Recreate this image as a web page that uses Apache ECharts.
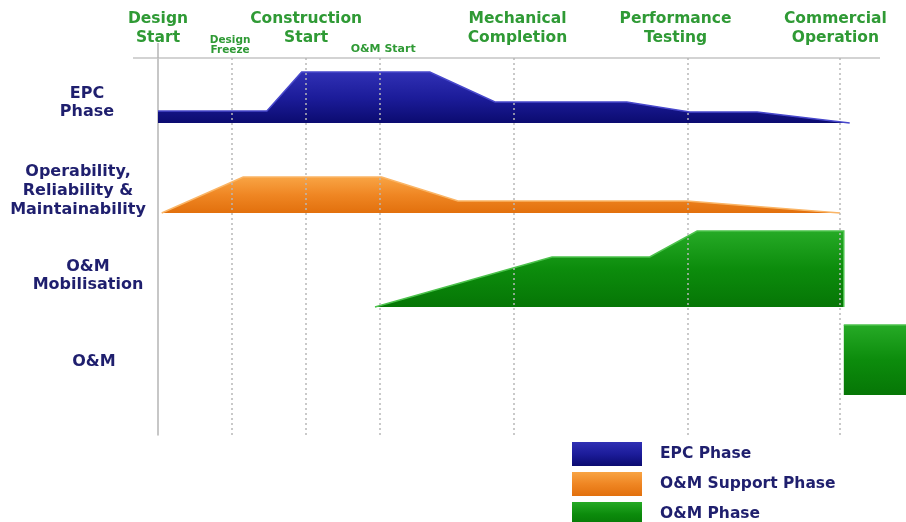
<!DOCTYPE html>
<html>
<head>
<meta charset="utf-8">
<script src="https://cdn.jsdelivr.net/npm/echarts@6/dist/echarts.min.js"></script>
<style>
  html, body { margin: 0; padding: 0; background: #ffffff; }
  #chart { width: 906px; height: 522px; }
</style>
</head>
<body>
<div id="chart"></div>
<script>
// Project timeline (weeks from design start)
const milestoneNames = ['Design\nStart', 'Design\nFreeze', 'Construction\nStart', 'O&M Start',
  'Mechanical\nCompletion', 'Performance\nTesting', 'Commercial\nOperation'];
const milestoneWeeks = [0, 10, 20, 30, 48, 71.5, 92];

// Swim lanes: label, baseline level and label level
const laneNames = ['EPC\nPhase', 'Operability,\nReliability &\nMaintainability', 'O&M\nMobilisation', 'O&M'];
const laneBase = [312, 222, 128, 40];
const laneLabelLevel = [332, 244, 159, 73];

// Effort profiles: breakpoints (weeks) and effort depth
const epcWeeks = [0, 14.7, 19.4, 36.7, 45.5, 63.3, 71.8, 80.9, 93.4];
const epcEffort = [12, 12, 51, 51, 21, 21, 11, 11, 0];
const ormWeeks = [0.5, 11.5, 30.2, 40.5, 71.4, 92.1];
const ormEffort = [0, 36, 36, 12, 12, 0];
const mobWeeks = [29.3, 53.2, 66.4, 72.8, 92.6, 92.6];
const mobEffort = [0, 50, 50, 76, 76, 0];
const omWeeks = [92.6, 101];
const omEffort = [70, 70];

const legendNames = ['EPC Phase', 'O&M Support Phase', 'O&M Phase'];

const FONT = 'DejaVu Sans';
const GREEN_TEXT = '#2f9a35';
const NAVY_TEXT = '#1f1f6e';

function vGrad(stops) {
  return new echarts.graphic.LinearGradient(0, 0, 0, 1,
    stops.map((c, i) => ({ offset: i / (stops.length - 1), color: c })));
}
const blueFill = vGrad(['#3030b4', '#1c1c9a', '#0b0b70']);
const orangeFill = vGrad(['#f8a444', '#ef8623', '#e2700d']);
const greenFill = vGrad(['#26aa26', '#0c8c0c', '#067606']);

// Polygon for one lane: effort profile on top of the lane baseline
function laneShape(api, weeks, effort, base, fill, edge) {
  const top = weeks.map((w, i) => api.coord([w, base + effort[i]]));
  const bottom = [api.coord([weeks[weeks.length - 1], base]), api.coord([weeks[0], base])];
  return {
    type: 'group',
    children: [
      { type: 'polygon', shape: { points: top.concat(bottom) }, style: { fill: fill } },
      { type: 'polyline', shape: { points: top }, style: { stroke: edge, lineWidth: 1.5, fill: null } }
    ]
  };
}

// Per-milestone label styling
const milestoneStyle = ['big', 'small', 'big', 'mid', 'bigR', 'bigL', 'bigL2'];

const chart = echarts.init(document.getElementById('chart'));

const bigText = { fontFamily: FONT, fontWeight: 'bold', fontSize: 15.5, lineHeight: 19, color: GREEN_TEXT };
const laneText = { fontFamily: FONT, fontWeight: 'bold', fontSize: 16, lineHeight: 18.5, color: NAVY_TEXT };

// One legend block per entry, stacked down the bottom-right corner
function legendBlock(name, top) {
  return {
    orient: 'vertical', left: 572, top: top, padding: 0,
    itemWidth: 70, itemHeight: 24, icon: 'rect',
    data: [name],
    textStyle: { fontFamily: FONT, fontWeight: 'bold', fontSize: 15.5, color: NAVY_TEXT, padding: [0, 0, 0, 13] }
  };
}

chart.setOption({
  backgroundColor: '#ffffff',
  animation: false,
  grid: { left: 158, right: 0, top: 58, bottom: 87 },
  xAxis: {
    type: 'value', position: 'top', min: 0, max: 101,
    axisLine: { show: false }, axisTick: { show: false }, splitLine: { show: false },
    axisLabel: {
      customValues: milestoneWeeks,
      margin: 2,
      verticalAlign: 'bottom',
      formatter: function (v) {
        const i = milestoneWeeks.indexOf(v);
        if (i < 0) return '';
        const s = milestoneStyle[i];
        const lines = milestoneNames[i].split('\n');
        if (s === 'small') return lines.map(l => '{small|' + l + '}').join('\n');
        if (s === 'mid') return '{mid|' + lines[0] + '}';
        return lines.map(l => '{' + s + '|' + l + '}').join('\n') + '\n{sp| }';
      },
      rich: {
        big: bigText,
        bigR: Object.assign({}, bigText, { padding: [0, 0, 0, 8] }),
        bigL: Object.assign({}, bigText, { padding: [0, 24, 0, 0] }),
        bigL2: Object.assign({}, bigText, { padding: [0, 8, 0, 0] }),
        small: { fontFamily: FONT, fontWeight: 'bold', fontSize: 10.5, lineHeight: 10.5, color: GREEN_TEXT, padding: [0, 4, 0, 0] },
        mid: { fontFamily: FONT, fontWeight: 'bold', fontSize: 11, lineHeight: 12, color: GREEN_TEXT, padding: [0, 0, 2, 6] },
        sp: { fontSize: 1, lineHeight: 9 }
      }
    }
  },
  yAxis: {
    type: 'value', min: 0, max: 377,
    axisLine: { show: true, onZero: false, lineStyle: { color: '#b4b4b4', width: 1.5 } },
    axisTick: { show: false }, splitLine: { show: false },
    axisLabel: {
      customValues: laneLabelLevel,
      margin: 71,
      align: 'center',
      verticalAlign: 'middle',
      formatter: function (v) {
        const i = laneLabelLevel.indexOf(v);
        if (i < 0) return '';
        const tag = ['lane', 'laneL', 'laneM', 'laneR'][i];
        return laneNames[i].split('\n').map(l => '{' + tag + '|' + l + '}').join('\n');
      },
      rich: {
        lane: laneText,
        laneL: Object.assign({}, laneText, { lineHeight: 19, padding: [0, 18, 0, 0] }),
        laneM: Object.assign({}, laneText, { lineHeight: 17.5, padding: [0, 0, 0, 2] }),
        laneR: Object.assign({}, laneText, { padding: [0, 0, 0, 14] })
      }
    }
  },
  legend: [
    legendBlock(legendNames[0], 442),
    legendBlock(legendNames[1], 472),
    legendBlock(legendNames[2], 502)
  ],
  graphic: [
    { type: 'line', shape: { x1: 133, y1: 58, x2: 880, y2: 58 }, style: { stroke: '#c4c4c4', lineWidth: 1.5 }, z: 1 },
    { type: 'line', shape: { x1: 158, y1: 43, x2: 158, y2: 58 }, style: { stroke: '#b4b4b4', lineWidth: 1.5 }, z: 1 }
  ],
  series: [
    {
      name: 'EPC Phase', type: 'custom', clip: false, z: 2,
      itemStyle: { color: blueFill },
      data: [[0, 0]],
      renderItem: function (params, api) {
        return laneShape(api, epcWeeks, epcEffort, laneBase[0], blueFill, '#4848cc');
      }
    },
    {
      name: 'O&M Support Phase', type: 'custom', clip: false, z: 2,
      itemStyle: { color: orangeFill },
      data: [[0, 0]],
      renderItem: function (params, api) {
        return laneShape(api, ormWeeks, ormEffort, laneBase[1], orangeFill, '#fab566');
      }
    },
    {
      name: 'O&M Phase', type: 'custom', clip: false, z: 2,
      itemStyle: { color: greenFill },
      data: [[0, 0], [0, 0]],
      renderItem: function (params, api) {
        if (params.dataIndex === 0) {
          return laneShape(api, mobWeeks, mobEffort, laneBase[2], greenFill, '#4cc24c');
        }
        return laneShape(api, omWeeks, omEffort, laneBase[3], greenFill, '#4cc24c');
      }
    },
    {
      name: 'milestones', type: 'line', data: [], z: 5, silent: true,
      markLine: {
        silent: true, symbol: 'none', animation: false,
        label: { show: false },
        lineStyle: { type: [2, 3], color: '#b8b8b8', width: 1.5 },
        data: milestoneWeeks.slice(1).map(w => ({ xAxis: w }))
      }
    }
  ]
});
</script>
</body>
</html>
